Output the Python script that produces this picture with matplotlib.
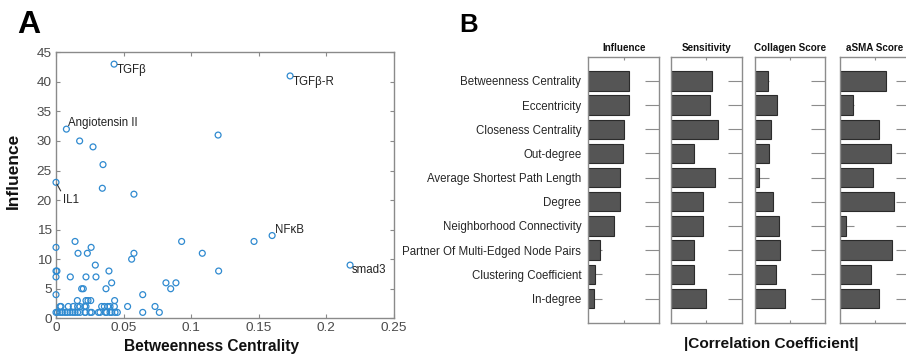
import matplotlib
matplotlib.use("Agg")
import matplotlib.pyplot as plt
import numpy as np

plt.rcParams['font.family'] = ['Liberation Sans', 'DejaVu Sans']

# ---------------- Panel A data ----------------
betweenness = [0.0430, 0.1733, 0.0077, 0.0175, 0.0274, 0.0348, 0.1200, 0.0000,
               0.0343, 0.0577, 0.0141, 0.0930, 0.1466, 0.1600, 0.2177, 0.0000,
               0.0260, 0.0163, 0.0232, 0.0577, 0.0560, 0.1083, 0.1204, 0.0000,
               0.0007, 0.0000, 0.0106, 0.0222, 0.0296, 0.0291, 0.0392, 0.0412,
               0.0370, 0.0190, 0.0202, 0.0814, 0.0888, 0.0849, 0.0000, 0.0642,
               0.0158, 0.0222, 0.0237, 0.0257, 0.0434,
               0.0030, 0.0037, 0.0091, 0.0128, 0.0160, 0.0178, 0.0212, 0.0222,
               0.0338, 0.0358, 0.0383, 0.0400, 0.0432, 0.0530, 0.0733,
               0.0000, 0.0010, 0.0030, 0.0047, 0.0067, 0.0084, 0.0104, 0.0124,
               0.0141, 0.0160, 0.0178, 0.0215, 0.0217, 0.0252, 0.0264, 0.0314,
               0.0326, 0.0366, 0.0375, 0.0400, 0.0412, 0.0437, 0.0454, 0.0642,
               0.0765]
influence = [43, 41, 32, 30, 29, 26, 31, 23,
             22, 21, 13, 13, 13, 14, 9, 12,
             12, 11, 11, 11, 10, 11, 8, 8,
             8, 7, 7, 7, 7, 9, 8, 6,
             5, 5, 5, 6, 6, 5, 4, 4,
             3, 3, 3, 3, 3,
             2, 2, 2, 2, 2, 2, 2, 2,
             2, 2, 2, 2, 2, 2, 2,
             1, 1, 1, 1, 1, 1, 1, 1,
             1, 1, 1, 1, 1, 1, 1, 1,
             1, 1, 1, 1, 1, 1, 1, 1,
             1]

label_names = ["TGFβ", "TGFβ-R", "Angiotensin II", "IL1", "NFκB", "smad3"]
label_x = [0.0430, 0.1733, 0.0077, 0.0000, 0.1600, 0.2177]
label_y = [43, 41, 32, 23, 14, 9]

a_xticks = [0, 0.05, 0.1, 0.15, 0.2, 0.25]
a_xticklabels = ["0", "0.05", "0.1", "0.15", "0.2", "0.25"]
a_yticks = [0, 5, 10, 15, 20, 25, 30, 35, 40, 45]

# ---------------- Panel B data ----------------
metrics = ["Betweenness Centrality", "Eccentricity", "Closeness Centrality",
           "Out-degree", "Average Shortest Path Length", "Degree",
           "Neighborhood Connectivity", "Partner Of Multi-Edged Node Pairs",
           "Clustering Coefficient", "In-degree"]
panel_titles = ["Influence", "Sensitivity", "Collagen Score", "aSMA Score"]
corr_influence = [0.57, 0.57, 0.50, 0.49, 0.45, 0.44, 0.36, 0.17, 0.10, 0.075]
corr_sensitivity = [0.58, 0.55, 0.67, 0.33, 0.62, 0.46, 0.455, 0.33, 0.33, 0.50]
corr_collagen = [0.18, 0.32, 0.23, 0.20, 0.05, 0.26, 0.34, 0.36, 0.30, 0.43]
corr_asma = [0.66, 0.19, 0.56, 0.73, 0.475, 0.77, 0.094, 0.74, 0.45, 0.56]
corr_all = [corr_influence, corr_sensitivity, corr_collagen, corr_asma]

W, H = 906, 358
fig = plt.figure(figsize=(W / 100, H / 100), dpi=100)

def fx(px):
    return px / W

def fy(py):
    return 1 - py / H

spine_col = '#8a8a8a'
tick_lab_col = '#4a4a4a'
dot_col = '#2f8ad0'

# ---------------- Panel A ----------------
axA = fig.add_axes([fx(56), fy(318.3), (393.7 - 56) / W, (318.3 - 52.3) / H])
axA.scatter(betweenness, influence, s=18, facecolors='none', edgecolors=dot_col,
            linewidths=0.9, zorder=3, clip_on=False)
axA.set_xlim(0, 0.25)
axA.set_ylim(0, 45)
axA.set_xticks(a_xticks)
axA.set_xticklabels(a_xticklabels)
axA.set_yticks(a_yticks)
axA.tick_params(direction='in', length=3, width=0.8, color=spine_col,
                labelcolor=tick_lab_col, labelsize=9.7, top=True, right=True, pad=3)
for s in axA.spines.values():
    s.set_color(spine_col)
    s.set_linewidth(1.0)
axA.set_xlabel("Betweenness Centrality", fontsize=11.2, fontweight='bold', color='#111111')
axA.xaxis.set_label_coords(0.46, -0.078)
axA.set_ylabel("Influence", fontsize=12.5, fontweight='bold', color='#111111')
axA.yaxis.set_label_coords(-0.104, 0.554)

ann_col = '#222222'
ann_fs = 8.3
offsets = {
    "TGFβ": ((2.2, -4.3), 'left', 'center'),
    "TGFβ-R": ((2.2, -4.3), 'left', 'center'),
    "Angiotensin II": ((1.4, 4.3), 'left', 'center'),
    "NFκB": ((2.2, 4.3), 'left', 'center'),
    "smad3": ((1.4, -3.6), 'left', 'center'),
}
for name, x, y in zip(label_names, label_x, label_y):
    if name == "IL1":
        axA.annotate(name, xy=(x, y), xytext=(5.2, -12.5), textcoords='offset points',
                     ha='left', va='center', fontsize=ann_fs, color=ann_col,
                     arrowprops=dict(arrowstyle='-', color='#333333', lw=0.8,
                                     shrinkA=0, shrinkB=1.5, relpos=(0, 0.85)))
    else:
        off, ha, va = offsets[name]
        axA.annotate(name, xy=(x, y), xytext=off, textcoords='offset points',
                     ha=ha, va=va, fontsize=ann_fs, color=ann_col)

fig.text(fx(17), fy(33), "A", fontsize=23, fontweight='bold', ha='left', va='baseline')
fig.text(fx(459), fy(31.7), "B", fontsize=18.5, fontweight='bold', ha='left', va='baseline')

# ---------------- Panel B ----------------
b_left = [588.3, 670.7, 755.0, 839.5]
b_width = [71.0, 71.0, 70.0, 70.5]
b_top, b_bot = 56.7, 322.7
ypos = np.arange(1, len(metrics) + 1)

for i, (title, vals) in enumerate(zip(panel_titles, corr_all)):
    ax = fig.add_axes([fx(b_left[i]), fy(b_bot), b_width[i] / W, (b_bot - b_top) / H])
    ax.set_axisbelow(True)
    ax.barh(ypos, vals, height=0.8, color='#555555', edgecolor='#2b2b2b', linewidth=0.8,
            zorder=2)
    ax.set_xlim(0, 1)
    ax.set_ylim(len(metrics) + 1, 0)
    ax.set_xticks([0.5])
    ax.set_xticklabels([])
    ax.set_yticks(ypos)
    if i == 0:
        ax.set_yticklabels(metrics)
    else:
        ax.set_yticklabels([])
    ax.tick_params(axis='y', direction='in', length=10.4, width=0.8, color='#8c8c8c',
                   left=True, right=True, labelsize=8.3, labelcolor='#262626', pad=5)
    ax.tick_params(axis='x', direction='in', length=2.2, width=0.8, color='#8c8c8c',
                   top=True, bottom=True)
    for s in ax.spines.values():
        s.set_color('#8c8c8c')
        s.set_linewidth(1.0)
    ax.text(0.5, 1.032, title, transform=ax.transAxes, ha='center', va='center',
            fontsize=7.1, fontweight='bold', color='#111111')

fig.text(fx(770.8), fy(344), "|Correlation Coefficient|", fontsize=11.1,
         fontweight='bold', ha='center', va='center', color='#111111')

fig.savefig("out.png", dpi=100)
